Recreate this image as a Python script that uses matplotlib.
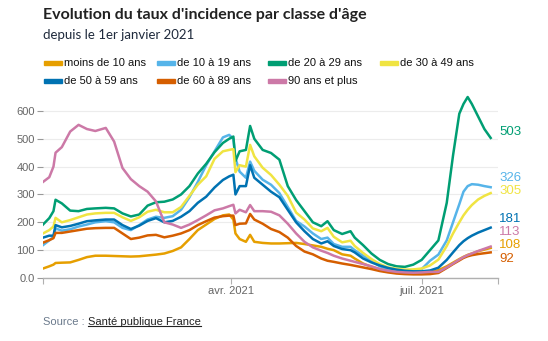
import matplotlib
matplotlib.use("Agg")
import matplotlib.pyplot as plt
from matplotlib.patches import Rectangle
from matplotlib.lines import Line2D
import pandas as pd

# days since 2021-01-01
day = [0, 3, 5, 6, 9, 13, 17, 21, 25, 30, 34, 38, 42, 46, 50, 54, 58, 62, 66, 70,
       74, 78, 82, 86, 89, 91, 92, 94, 97, 99, 101, 105, 109, 113, 117, 121, 125, 129,
       133, 136, 139, 143, 147, 149, 153, 157, 161, 165, 169, 173, 177, 181, 185, 189,
       193, 196, 199, 201, 203, 205, 208, 211, 214]

moins_10 = [34, 42, 48, 54, 55, 56, 65, 75, 80, 80, 79, 78, 77, 78, 81, 84, 88, 97, 110, 140,
            172, 192, 212, 225, 228, 210, 160, 140, 130, 155, 130, 126, 124, 124, 125, 126, 122, 117,
            112, 105, 100, 85, 80, 70, 52, 40, 32, 26, 22, 20, 20, 20, 22, 28,
            42, 55, 68, 76, 83, 88, 96, 102, 108]
de_10_19 = [118, 135, 148, 178, 170, 175, 185, 192, 200, 204, 200, 180, 172, 190, 210, 220, 216, 222, 245, 290,
            345, 405, 455, 505, 514, 500, 430, 382, 360, 418, 385, 353, 335, 305, 255, 205, 185, 160,
            140, 145, 122, 112, 112, 100, 80, 60, 42, 32, 27, 25, 28, 32, 62, 84,
            135, 200, 265, 310, 330, 337, 335, 330, 326]
de_20_29 = [192, 215, 240, 281, 268, 242, 240, 248, 250, 252, 250, 232, 221, 228, 260, 272, 274, 282, 300, 330,
            375, 410, 452, 485, 500, 508, 420, 455, 460, 546, 500, 460, 449, 425, 330, 280, 240, 200,
            186, 204, 172, 158, 168, 145, 118, 88, 65, 50, 42, 40, 48, 65, 100, 135,
            270, 440, 590, 625, 650, 625, 580, 535, 503]
de_30_49 = [160, 172, 185, 216, 200, 208, 218, 228, 232, 234, 234, 218, 205, 218, 238, 245, 236, 236, 255, 295,
            335, 365, 428, 455, 460, 463, 380, 405, 400, 478, 437, 396, 370, 335, 295, 235, 210, 178,
            168, 180, 148, 128, 134, 115, 90, 68, 50, 38, 33, 30, 31, 34, 45, 66,
            115, 160, 200, 225, 245, 262, 282, 295, 305]
de_50_59 = [145, 152, 152, 190, 182, 187, 195, 204, 207, 210, 210, 190, 176, 188, 205, 215, 200, 205, 220, 240,
            270, 292, 325, 352, 365, 371, 300, 330, 330, 405, 360, 335, 310, 290, 245, 200, 168, 140,
            124, 132, 115, 104, 100, 92, 70, 56, 45, 36, 30, 26, 24, 24, 27, 37,
            65, 92, 118, 132, 143, 152, 163, 172, 181]
de_60_89 = [127, 136, 143, 162, 162, 167, 172, 177, 179, 180, 180, 160, 140, 145, 153, 155, 146, 152, 160, 172,
            190, 204, 217, 222, 224, 224, 190, 195, 196, 230, 210, 195, 176, 165, 145, 115, 95, 85,
            70, 62, 58, 52, 47, 44, 38, 32, 25, 20, 16, 14, 13, 13, 14, 18,
            36, 50, 63, 72, 78, 82, 86, 89, 92]
plus_90 = [345, 362, 400, 450, 470, 526, 550, 535, 528, 539, 490, 395, 355, 330, 310, 275, 200, 192, 180, 192,
           208, 225, 243, 250, 258, 263, 232, 245, 236, 262, 240, 240, 238, 225, 195, 160, 130, 110,
           98, 90, 80, 70, 62, 58, 50, 42, 32, 26, 22, 20, 19, 20, 22, 22,
           38, 52, 66, 75, 82, 88, 97, 105, 113]

series = [moins_10, de_10_19, de_20_29, de_30_49, de_50_59, de_60_89, plus_90]
names = ["moins de 10 ans", "de 10 à 19 ans", "de 20 à 29 ans", "de 30 à 49 ans",
         "de 50 à 59 ans", "de 60 à 89 ans", "90 ans et plus"]
colors = ["#E69F00", "#56B4E9", "#009E73", "#F0E442", "#0072B2", "#D55E00", "#CC79A7"]

# where the end labels sit (data units), spread out so they don't collide
label_y = [118, 360, 523, 313, 212, 70, 165]

start = pd.Timestamp("2021-01-01")
dates = start + pd.to_timedelta(day, unit="D")

W, H = 548, 341
fig = plt.figure(figsize=(W / 100, H / 100), dpi=100)
fig.patch.set_facecolor("white")

ax = fig.add_axes([43 / W, (H - 278) / H, (498 - 43) / W, (278 - 92) / H])
for vals, c in zip(series, colors):
    ax.plot(dates, vals, color=c, lw=1.8, solid_joinstyle="round", zorder=3)

for vals, c, ly in zip(series, colors, label_y):
    ax.annotate(str(vals[-1]), xy=(dates[-1], ly), xytext=(6, 0), textcoords="offset points",
                va="center", ha="left", color=c, fontsize=9.5, family="Liberation Sans",
                annotation_clip=False)

xmax = start + pd.Timedelta(days=217.5)
ax.set_xlim(start, xmax)
ax.set_ylim(0, 668)

yt = [0, 100, 200, 300, 400, 500, 600]
ax.set_yticks(yt)
ax.set_yticklabels(["0.0"] + [str(v) for v in yt[1:]])
xt = [start, pd.Timestamp("2021-04-01"), pd.Timestamp("2021-07-01"), xmax]
ax.set_xticks(xt)
ax.set_xticklabels(["", "avr. 2021", "juil. 2021", ""])

ax.grid(axis="y", color="#ececec", lw=0.8, zorder=0)
for s in ["top", "right", "left"]:
    ax.spines[s].set_visible(False)
ax.spines["bottom"].set_color("#b0b0b0")
ax.spines["bottom"].set_linewidth(1.0)
ax.tick_params(axis="y", length=4, color="#999999", labelcolor="#666666", labelsize=8, pad=2)
ax.tick_params(axis="x", length=4, color="#b0b0b0", labelcolor="#666666", labelsize=8, pad=2)
for t in ax.get_xticklabels() + ax.get_yticklabels():
    t.set_family("Liberation Sans")

# title block
fig.text(43 / W, 1 - 15 / H, "Evolution du taux d'incidence par classe d'âge",
         family="Lato", weight="bold", fontsize=11.5, color="#222222", va="center")
fig.text(43 / W, 1 - 35 / H, "depuis le 1er janvier 2021",
         family="Lato", fontsize=9.5, color="#1f2a3c", va="center")

# legend, drawn by hand in two rows
col_x = [44, 157, 268, 380]
row_y = [63, 81]
for i, (name, c) in enumerate(zip(names, colors)):
    r, k = divmod(i, 4)
    x0, y0 = col_x[k], row_y[r]
    fig.patches.append(Rectangle((x0 / W, 1 - (y0 + 2) / H), 18 / W, 4 / H,
                                 transform=fig.transFigure, color=c, figure=fig))
    fig.text((x0 + 20) / W, 1 - y0 / H, name, family="Liberation Sans", fontsize=8,
             color="#111111", va="center")

# source line
fig.text(43 / W, 1 - 322 / H, "Source : ", family="Liberation Sans", fontsize=8,
         color="#6b7a8c", va="center")
link = fig.text(88 / W, 1 - 322 / H, "Santé publique France", family="Liberation Sans",
                fontsize=8, color="#222222", va="center")
fig.canvas.draw()
bb = link.get_window_extent().transformed(fig.transFigure.inverted())
fig.lines.append(Line2D([bb.x0, bb.x1], [bb.y0 + 1 / H, bb.y0 + 1 / H], transform=fig.transFigure,
                        color="#222222", lw=0.8))

fig.savefig("out.png", dpi=100)
